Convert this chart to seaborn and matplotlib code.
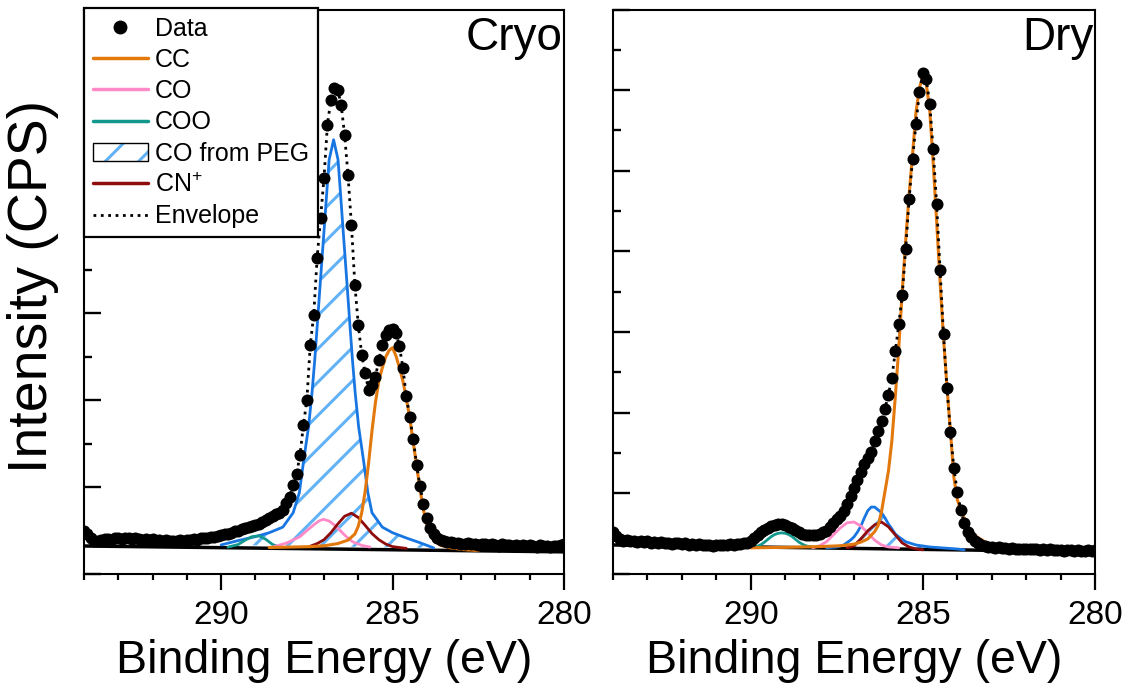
import numpy as np
import matplotlib
matplotlib.use("Agg")
import matplotlib.pyplot as plt
from matplotlib.lines import Line2D
from matplotlib.patches import Patch
from matplotlib.ticker import MultipleLocator
import seaborn as sns

# measured points: 0.1 eV steps from 294.0 down to 280.0 eV
energy = np.round(np.arange(294.0, 279.95, -0.1), 1)

cryo_counts = [
    1.00, 0.92, 0.82, 0.77, 0.75, 0.78, 0.80, 0.81, 0.79, 0.82,
    0.83, 0.81, 0.84, 0.82, 0.80, 0.83, 0.81, 0.79, 0.80, 0.78,
    0.80, 0.77, 0.78, 0.76, 0.79, 0.77, 0.75, 0.76, 0.78, 0.77,
    0.79, 0.78, 0.80, 0.79, 0.82, 0.84, 0.83, 0.86, 0.85, 0.88,
    0.90, 0.92, 0.93, 0.95, 0.98, 1.00, 1.03, 1.06, 1.08, 1.10,
    1.12, 1.15, 1.20, 1.25, 1.30, 1.34, 1.38, 1.41, 1.47, 1.64,
    1.77, 2.05, 2.30, 2.74, 3.43, 4.01, 5.28, 5.97, 7.28, 8.20,
    9.12, 10.35, 10.92, 11.20, 11.15, 10.81, 10.12, 9.19, 8.04, 6.66,
    5.74, 5.05, 4.63, 4.24, 4.35, 4.54, 4.93, 5.28, 5.51, 5.62,
    5.64, 5.55, 5.25, 4.75, 4.10, 3.62, 3.12, 2.52, 2.02, 1.62,
    1.30, 1.06, 0.92, 0.84, 0.79, 0.76, 0.74, 0.73, 0.71, 0.72,
    0.70, 0.69, 0.71, 0.68, 0.70, 0.67, 0.69, 0.68, 0.66, 0.68,
    0.67, 0.65, 0.68, 0.66, 0.67, 0.64, 0.66, 0.65, 0.67, 0.64,
    0.66, 0.65, 0.63, 0.66, 0.64, 0.65, 0.63, 0.65, 0.64, 0.66,
    0.70,
]

dry_counts = [
    1.04, 0.95, 0.86, 0.82, 0.84, 0.81, 0.83, 0.80, 0.82, 0.79,
    0.81, 0.78, 0.80, 0.77, 0.79, 0.76, 0.78, 0.75, 0.77, 0.76,
    0.74, 0.76, 0.73, 0.75, 0.72, 0.74, 0.71, 0.73, 0.72, 0.70,
    0.72, 0.71, 0.73, 0.72, 0.74, 0.73, 0.75, 0.74, 0.76, 0.78,
    0.82, 0.89, 0.97, 1.05, 1.10, 1.15, 1.19, 1.21, 1.23, 1.23,
    1.21, 1.17, 1.13, 1.08, 1.04, 1.00, 0.97, 0.96, 0.96, 0.97,
    1.00, 1.03, 1.07, 1.17, 1.27, 1.37, 1.44, 1.57, 1.74, 1.94,
    2.14, 2.34, 2.53, 2.73, 2.88, 3.03, 3.30, 3.55, 3.80, 4.10,
    4.45, 4.87, 5.52, 6.19, 6.91, 8.05, 9.29, 10.29, 11.16, 11.95,
    12.42, 12.27, 11.65, 10.53, 9.17, 7.55, 5.94, 4.62, 3.53, 2.63,
    2.04, 1.59, 1.27, 1.04, 0.92, 0.82, 0.77, 0.72, 0.70, 0.67,
    0.66, 0.65, 0.66, 0.64, 0.65, 0.63, 0.64, 0.62, 0.63, 0.62,
    0.61, 0.63, 0.61, 0.62, 0.60, 0.61, 0.59, 0.61, 0.60, 0.59,
    0.60, 0.58, 0.60, 0.59, 0.57, 0.59, 0.58, 0.57, 0.59, 0.58,
    0.60,
]

# background line (end points)
cryo_bg_ev = [294.0, 280.0]
cryo_bg = [0.645, 0.51]
dry_bg_ev = [294.0, 280.0]
dry_bg = [0.72, 0.55]

# fitted components, Cryo
cryo_cc_ev = [288.6, 288.0, 287.4, 287.0, 286.6, 286.3, 286.1, 286.0, 285.9, 285.8,
              285.7, 285.6, 285.5, 285.4, 285.3, 285.2, 285.1, 285.0, 284.9, 284.8,
              284.7, 284.6, 284.5, 284.4, 284.3, 284.2, 284.1, 284.0, 283.9, 283.8,
              283.6, 283.3, 282.9, 282.5]
cryo_cc = [0.61, 0.62, 0.63, 0.65, 0.70, 0.78, 0.92, 1.10, 1.41, 1.90,
           2.55, 3.30, 3.95, 4.45, 4.75, 5.00, 5.15, 5.21, 5.02, 4.75,
           4.45, 4.05, 3.60, 3.05, 2.50, 1.95, 1.48, 1.12, 0.90, 0.78,
           0.66, 0.60, 0.56, 0.54]
cryo_co_ev = [288.5, 288.1, 287.7, 287.5, 287.3, 287.15, 287.02, 286.85, 286.7, 286.54,
              286.35, 286.16, 285.9, 285.66]
cryo_co = [0.62, 0.71, 0.86, 1.00, 1.13, 1.22, 1.26, 1.22, 1.13, 1.01,
           0.86, 0.74, 0.66, 0.62]
cryo_coo_ev = [289.8, 289.5, 289.3, 289.1, 288.9, 288.7, 288.5, 288.3]
cryo_coo = [0.62, 0.68, 0.78, 0.86, 0.88, 0.80, 0.68, 0.62]
cryo_peg_ev = [290.0, 289.5, 289.0, 288.6, 288.2, 287.9, 287.72, 287.59, 287.45, 287.35,
               287.27, 287.2, 287.13, 287.06, 286.99, 286.92, 286.85, 286.72, 286.59, 286.52,
               286.45, 286.38, 286.31, 286.24, 286.17, 286.09, 285.99, 285.85, 285.72, 285.6,
               285.3, 285.0, 284.6, 284.2, 283.8]
cryo_peg = [0.67, 0.77, 0.86, 0.95, 1.08, 1.41, 1.87, 2.63, 3.39, 4.17,
            4.93, 5.69, 6.47, 7.24, 8.00, 8.78, 9.54, 10.0, 9.54, 8.78,
            8.00, 7.24, 6.47, 5.69, 4.93, 4.17, 3.39, 2.63, 1.87, 1.41,
            1.08, 0.95, 0.83, 0.72, 0.60]
cryo_cn_ev = [287.4, 287.2, 287.0, 286.8, 286.6, 286.4, 286.2, 286.0, 285.8, 285.6,
              285.4, 285.2, 285.0, 284.6]
cryo_cn = [0.64, 0.70, 0.79, 0.95, 1.15, 1.33, 1.40, 1.30, 1.12, 0.93,
           0.79, 0.69, 0.63, 0.59]

# fitted components, Dry
dry_cc_ev = [290.0, 289.0, 288.0, 287.4, 287.0, 286.8, 286.6, 286.4, 286.3, 286.2,
             286.1, 286.0, 285.9, 285.8, 285.7, 285.6, 285.5, 285.4, 285.3, 285.2,
             285.1, 285.0, 284.9, 284.8, 284.7, 284.6, 284.5, 284.4, 284.3, 284.2,
             284.1, 284.0, 283.9, 283.8, 283.7, 283.6, 283.5, 283.4, 283.2, 283.0,
             282.8, 282.5]
dry_cc = [0.65, 0.66, 0.68, 0.70, 0.74, 0.79, 0.87, 1.05, 1.20, 1.55,
          2.05, 2.55, 3.30, 4.40, 5.60, 7.00, 8.25, 9.40, 10.40, 11.45,
          12.05, 12.35, 12.15, 11.50, 10.20, 8.75, 7.25, 5.85, 4.65, 3.55,
          2.40, 1.85, 1.58, 1.38, 1.20, 1.06, 0.97, 0.90, 0.80, 0.73,
          0.68, 0.63]
dry_co_ev = [288.2, 288.0, 287.8, 287.6, 287.4, 287.2, 287.0, 286.8, 286.6, 286.4,
             286.2, 286.0, 285.7]
dry_co = [0.65, 0.70, 0.80, 0.97, 1.14, 1.27, 1.29, 1.19, 1.02, 0.84,
          0.72, 0.67, 0.65]
dry_coo_ev = [289.9, 289.8, 289.7, 289.6, 289.5, 289.4, 289.3, 289.2, 289.1, 289.0,
              288.9, 288.8, 288.7, 288.6, 288.5, 288.4, 288.3, 288.2]
dry_coo = [0.67, 0.69, 0.73, 0.79, 0.86, 0.93, 0.98, 1.01, 1.02, 1.01,
           0.98, 0.93, 0.86, 0.79, 0.74, 0.70, 0.68, 0.67]
dry_peg_ev = [287.8, 287.5, 287.3, 287.1, 287.0, 286.9, 286.8, 286.7, 286.6, 286.5,
              286.4, 286.3, 286.2, 286.1, 286.0, 285.9, 285.8, 285.7, 285.5, 285.2,
              284.8, 284.0, 283.8]
dry_peg = [0.65, 0.67, 0.72, 0.84, 0.92, 1.04, 1.19, 1.39, 1.57, 1.66,
           1.66, 1.59, 1.52, 1.39, 1.24, 1.12, 0.99, 0.92, 0.80, 0.72,
           0.67, 0.62, 0.60]
dry_cn_ev = [287.2, 287.0, 286.8, 286.6, 286.4, 286.2, 286.0, 285.8, 285.6, 285.4,
             285.2, 285.0]
dry_cn = [0.65, 0.70, 0.87, 1.07, 1.22, 1.29, 1.17, 0.97, 0.77, 0.67,
          0.62, 0.60]

# envelope drawn over the peak region
envelope_range = (290.5, 283.0)

c_cc = "#E3780C"
c_co = "#FF8AC8"
c_coo = "#12988C"
c_peg = "#1776E1"
c_peg_hatch = "#62B2F5"
c_cn = "#8E0C0C"

sns.set_theme(style="ticks")
plt.rcParams["font.family"] = ["Liberation Sans", "DejaVu Sans"]
plt.rcParams["mathtext.fontset"] = "custom"
plt.rcParams["mathtext.rm"] = "Liberation Sans"
plt.rcParams["hatch.linewidth"] = 2.2
for key in ["text.color", "axes.labelcolor", "xtick.color", "ytick.color", "axes.edgecolor"]:
    plt.rcParams[key] = "black"


def draw_panel(ax, counts, bg_ev, bg, cc, co, coo, peg, cn, ymax, title):
    # hatched PEG area closed along the background
    ax.fill(peg[0], peg[1], facecolor="none", edgecolor=c_peg_hatch,
            hatch="/", linewidth=0, zorder=1)
    sns.lineplot(x=bg_ev, y=bg, ax=ax, color="black", lw=2.5, zorder=2)
    sns.lineplot(x=peg[0], y=peg[1], ax=ax, color=c_peg, lw=2.0, sort=False, zorder=3)
    sns.lineplot(x=coo[0], y=coo[1], ax=ax, color=c_coo, lw=2.0, sort=False, zorder=3)
    sns.lineplot(x=co[0], y=co[1], ax=ax, color=c_co, lw=2.0, sort=False, zorder=3)
    sns.lineplot(x=cn[0], y=cn[1], ax=ax, color=c_cn, lw=2.0, sort=False, zorder=3)
    sns.lineplot(x=cc[0], y=cc[1], ax=ax, color=c_cc, lw=2.2, sort=False, zorder=3)

    sns.scatterplot(x=energy, y=counts, ax=ax, color="black", s=75,
                    linewidth=0, legend=False, zorder=4)
    mask = (energy <= envelope_range[0]) & (energy >= envelope_range[1])
    sns.lineplot(x=energy[mask], y=np.array(counts)[mask], ax=ax, color="black",
                 lw=2.0, linestyle=":", sort=False, zorder=5)

    ax.set_xlim(294, 280)
    ax.set_ylim(0, ymax)
    ax.xaxis.set_major_locator(MultipleLocator(5))
    ax.xaxis.set_minor_locator(MultipleLocator(1))
    ax.yaxis.set_major_locator(MultipleLocator(2))
    ax.yaxis.set_minor_locator(MultipleLocator(1))
    ax.tick_params(axis="x", which="major", direction="out", length=11.5, width=1.6,
                   labelsize=24, pad=7, top=False, colors="black")
    ax.tick_params(axis="x", which="minor", direction="out", length=4.5, width=1.6,
                   top=False, colors="black")
    ax.tick_params(axis="y", which="major", direction="in", length=12, width=1.7,
                   labelleft=False, right=False, colors="black")
    ax.tick_params(axis="y", which="minor", direction="in", length=6, width=1.7,
                   right=False, colors="black")
    for sp in ax.spines.values():
        sp.set_visible(True)
        sp.set_linewidth(1.5)
        sp.set_color("black")
    ax.set_xlabel("Binding Energy (eV)", fontsize=33.5, labelpad=6, color="black")
    ax.set_ylabel("")
    ax.text(0.997, 0.988, title, transform=ax.transAxes, ha="right", va="top",
            fontsize=33, color="black", zorder=6)


fig = plt.figure(figsize=(11.29, 6.89), dpi=100)
ax1 = fig.add_axes([84 / 1129, 115 / 689, 480 / 1129, 564.5 / 689])
ax2 = fig.add_axes([613 / 1129, 115 / 689, 482 / 1129, 564.5 / 689])

draw_panel(ax1, cryo_counts, cryo_bg_ev, cryo_bg,
           (cryo_cc_ev, cryo_cc), (cryo_co_ev, cryo_co), (cryo_coo_ev, cryo_coo),
           (cryo_peg_ev, cryo_peg), (cryo_cn_ev, cryo_cn), 13, "Cryo")
draw_panel(ax2, dry_counts, dry_bg_ev, dry_bg,
           (dry_cc_ev, dry_cc), (dry_co_ev, dry_co), (dry_coo_ev, dry_coo),
           (dry_peg_ev, dry_peg), (dry_cn_ev, dry_cn), 14, "Dry")

ax1.set_ylabel("Intensity (CPS)", fontsize=40, color="black")
ax1.yaxis.set_label_coords(-0.052, 0.51)

handles = [
    Line2D([], [], marker="o", color="black", linestyle="none", markersize=9),
    Line2D([], [], color=c_cc, lw=2.5),
    Line2D([], [], color=c_co, lw=2.5),
    Line2D([], [], color=c_coo, lw=2.5),
    (Patch(facecolor="white", edgecolor=c_peg_hatch, hatch="/", linewidth=0),
     Patch(facecolor="none", edgecolor="black", linewidth=1.0)),
    Line2D([], [], color=c_cn, lw=2.5),
    Line2D([], [], color="black", lw=2.0, linestyle=":"),
]
labels = ["Data", "CC", "CO", "COO", "CO from PEG", "CN$^{+}$", "Envelope"]
leg = ax1.legend(handles, labels, loc="upper left", bbox_to_anchor=(0, 1.003),
                 borderaxespad=0, fontsize=18, frameon=True, fancybox=False,
                 edgecolor="black", framealpha=1, handlelength=2.2,
                 handletextpad=0.3, labelspacing=0.29, borderpad=0.35)
leg.get_frame().set_linewidth(1.6)
leg.set_zorder(10)
for t in leg.get_texts():
    t.set_color("black")

fig.savefig("out.png", dpi=100)
